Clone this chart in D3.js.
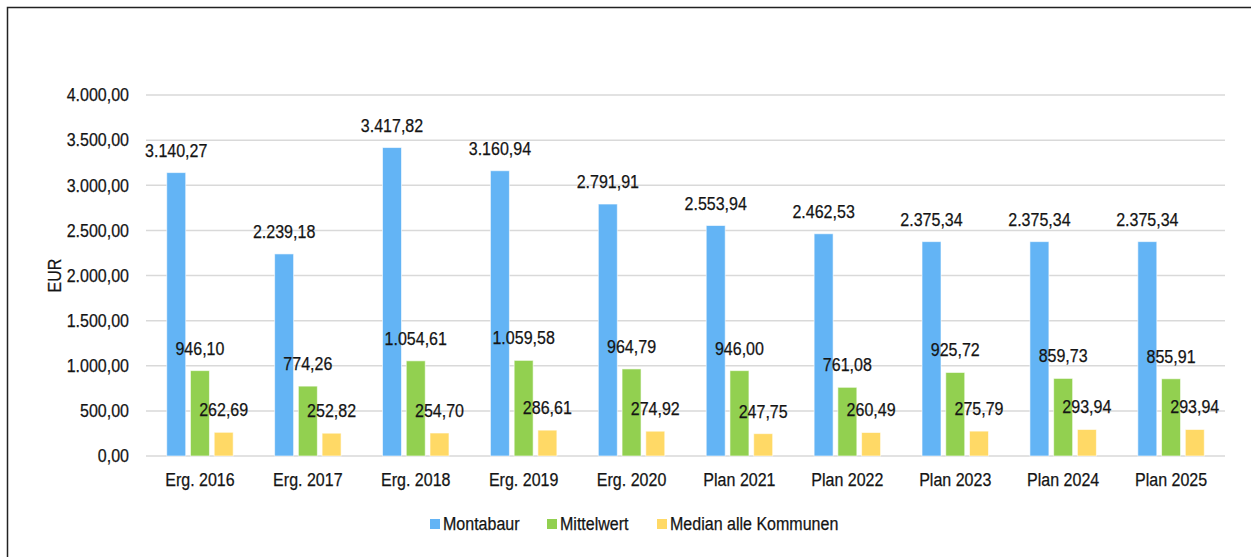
<!DOCTYPE html>
<html>
<head>
<meta charset="utf-8">
<script src="https://cdn.jsdelivr.net/npm/d3@7"></script>
<style>
   body { margin: 0; background: #fff; }
   svg text { font-family: 'Liberation Sans', Arial, sans-serif; fill: #141414; stroke: #141414; stroke-width: 0.25px; }
</style>
</head>
<body>
<div id="chart"></div>
<script>
const categories = ['Erg. 2016', 'Erg. 2017', 'Erg. 2018', 'Erg. 2019', 'Erg. 2020',
   'Plan 2021', 'Plan 2022', 'Plan 2023', 'Plan 2024', 'Plan 2025'];
const seriesNames = ['Montabaur', 'Mittelwert', 'Median alle Kommunen'];
const montabaur = [3140.27, 2239.18, 3417.82, 3160.94, 2791.91, 2553.94, 2462.53, 2375.34, 2375.34, 2375.34];
const mittelwert = [946.10, 774.26, 1054.61, 1059.58, 964.79, 946.00, 761.08, 925.72, 859.73, 855.91];
const median = [262.69, 252.82, 254.70, 286.61, 274.92, 247.75, 260.49, 275.79, 293.94, 293.94];
const yTicks = [0, 500, 1000, 1500, 2000, 2500, 3000, 3500, 4000];
const colors = ['#63b4f5', '#92d050', '#ffd966'];

const W = 1251, H = 557;
const margin = { top: 95, right: 26, bottom: 101, left: 146 };
const NARROW = 0.89; // squeeze Arial-metric text to look like a narrow face

const svg = d3.select('#chart').append('svg')
   .attr('width', W)
   .attr('height', H);

// outer frame (cropped on right/bottom)
svg.append('rect')
   .attr('x', 7.5).attr('y', 7.5)
   .attr('width', W + 10).attr('height', H + 10)
   .attr('fill', 'none')
   .attr('stroke', '#222')
   .attr('stroke-width', 1.5);

const x0 = d3.scaleBand()
   .domain(categories)
   .range([margin.left, W - margin.right])
   .paddingInner(0.384)
   .paddingOuter(0.192);

const x1 = d3.scaleBand()
   .domain(seriesNames)
   .range([0, x0.bandwidth()])
   .paddingInner(0.2);

const y = d3.scaleLinear()
   .domain([0, 4000])
   .range([H - margin.bottom, margin.top]);

const fmt = d3.formatLocale({ decimal: ',', thousands: '.', grouping: [3], currency: ['', ' EUR'] }).format(',.2f');

// gridlines
svg.append('g')
   .selectAll('line')
   .data(yTicks)
   .join('line')
   .attr('x1', margin.left)
   .attr('x2', W - margin.right)
   .attr('y1', d => y(d))
   .attr('y2', d => y(d))
   .attr('stroke', '#d9d9d9')
   .attr('stroke-width', 1.5);

// y axis labels
const yAxis = d3.axisLeft(y).tickValues(yTicks).tickFormat(fmt).tickSize(0).tickPadding(17);
const yAxisG = svg.append('g')
   .attr('transform', `translate(${margin.left},0)`)
   .call(yAxis);
yAxisG.select('.domain').remove();
yAxisG.attr('font-family', null).attr('font-size', null);
yAxisG.selectAll('text').attr('font-size', 18);

// y axis title
svg.append('text')
   .attr('transform', `translate(61,${(y(0) + y(4000)) / 2}) rotate(-90)`)
   .attr('text-anchor', 'middle')
   .attr('font-size', 18)
   .text('EUR');

// x axis labels
const xAxis = d3.axisBottom(x0).tickSize(0).tickPadding(17);
const xAxisG = svg.append('g')
   .attr('transform', `translate(0,${y(0)})`)
   .call(xAxis);
xAxisG.select('.domain').remove();
xAxisG.attr('font-family', null).attr('font-size', null);
xAxisG.selectAll('text').attr('font-size', 18);

const seriesData = [montabaur, mittelwert, median];
const rows = categories.map((c, i) => ({
   cat: c,
   vals: seriesNames.map((s, j) => ({ key: s, j, value: seriesData[j][i] }))
}));

const groups = svg.append('g')
   .selectAll('g')
   .data(rows)
   .join('g')
   .attr('transform', d => `translate(${x0(d.cat)},0)`);

groups.selectAll('rect')
   .data(d => d.vals)
   .join('rect')
   .attr('x', d => x1(d.key))
   .attr('y', d => y(d.value))
   .attr('width', x1.bandwidth())
   .attr('height', d => y(0) - y(d.value))
   .attr('fill', d => colors[d.j])
   .attr('stroke', '#ffffff')
   .attr('stroke-opacity', 0.6)
   .attr('stroke-width', 1);

groups.selectAll('text.lbl')
   .data(d => d.vals)
   .join('text')
   .attr('class', 'lbl')
   .attr('x', d => x1(d.key) + x1.bandwidth() / 2)
   .attr('y', d => y(d.value) - 16)
   .attr('text-anchor', 'middle')
   .attr('font-size', 18)
   .text(d => fmt(d.value));

// legend
const legendX = [430, 547, 657];
const legend = svg.append('g')
   .selectAll('g')
   .data(seriesNames)
   .join('g')
   .attr('transform', (d, i) => `translate(${legendX[i]},519)`);
legend.append('rect')
   .attr('width', 10).attr('height', 10)
   .attr('fill', (d, i) => colors[i]);
legend.append('text')
   .attr('x', 13)
   .attr('y', 11)
   .attr('font-size', 18)
   .text(d => d);

// condense every text
svg.selectAll('text').each(function () {
   const len = this.getComputedTextLength();
   d3.select(this)
      .attr('textLength', len * NARROW)
      .attr('lengthAdjust', 'spacingAndGlyphs');
});
</script>
</body>
</html>
